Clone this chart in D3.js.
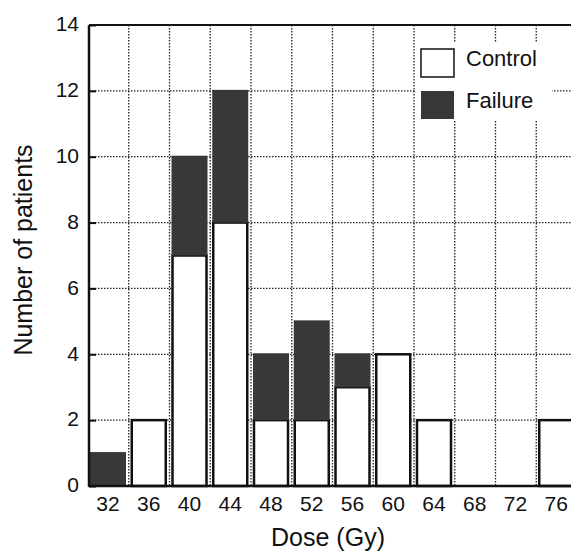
<!DOCTYPE html>
<html lang="en">
<head>
    <meta charset="UTF-8">
    <title>Dose vs patients</title>
    <script src="https://cdn.jsdelivr.net/npm/d3@7"></script>
    <style>
        body { margin: 0; background: #fff; }
        text { font-family: "Liberation Sans", Arial, sans-serif; fill: #111; }
    </style>
</head>
<body>
    <div id="svg"></div>
    <script>
        // data
        const doses = [32, 36, 40, 44, 48, 52, 56, 60, 64, 68, 72, 76]
        const control = [0, 2, 7, 8, 2, 2, 3, 4, 2, 0, 0, 2]
        const failure = [1, 0, 3, 4, 2, 3, 1, 0, 0, 0, 0, 0]
        const yTicks = [0, 2, 4, 6, 8, 10, 12, 14]

        const width = 571, height = 551
        const plot = { left: 89, right: 578, top: 25, bottom: 486 }

        const svg = d3.select("#svg").append("svg").attr("width", width).attr("height", height)

        const x = d3.scaleBand().domain(doses).range([plot.left, plot.right])
        const y = d3.scaleLinear().domain([0, 14]).range([plot.bottom, plot.top])

        // grid (dotted)
        const grid = svg.append("g").attr("stroke", "#222").attr("stroke-width", 1.3)
            .attr("stroke-dasharray", "1.5,1.5")
        grid.selectAll(".v").data(doses.slice(1)).enter().append("line")
            .attr("x1", d => x(d) - 1).attr("x2", d => x(d) - 1)
            .attr("y1", plot.top).attr("y2", plot.bottom)
        grid.selectAll(".h").data(yTicks.slice(1, -1)).enter().append("line")
            .attr("x1", plot.left).attr("x2", width)
            .attr("y1", d => y(d)).attr("y2", d => y(d))

        // legend background hides the grid
        svg.append("rect").attr("x", 416).attr("y", 43).attr("width", 136).attr("height", 77).attr("fill", "#fff")

        // bars
        const bw = 34
        const bars = svg.append("g")
        bars.selectAll(".c").data(doses).enter().filter((d, i) => control[i] > 0).append("rect")
            .attr("x", d => x(d) + 2).attr("width", bw)
            .attr("y", (d) => y(control[doses.indexOf(d)]))
            .attr("height", d => plot.bottom - y(control[doses.indexOf(d)]))
            .attr("fill", "#fff").attr("stroke", "#111").attr("stroke-width", 2.5)
        bars.selectAll(".f").data(doses).enter().filter((d, i) => failure[i] > 0).append("rect")
            .attr("x", d => x(d) + 1).attr("width", bw + 2)
            .attr("y", d => { const i = doses.indexOf(d); return y(control[i] + failure[i]) - 1 })
            .attr("height", d => { const i = doses.indexOf(d); return y(control[i]) - y(control[i] + failure[i]) + 1 })
            .attr("fill", "#383838")

        // frame: left, bottom, top
        svg.append("line").attr("x1", plot.left).attr("x2", plot.left).attr("y1", plot.top).attr("y2", plot.bottom + 1)
            .attr("stroke", "#111").attr("stroke-width", 2.5)
        svg.append("line").attr("x1", plot.left).attr("x2", width).attr("y1", plot.bottom).attr("y2", plot.bottom)
            .attr("stroke", "#111").attr("stroke-width", 2.5)
        svg.append("line").attr("x1", plot.left).attr("x2", width).attr("y1", plot.top).attr("y2", plot.top)
            .attr("stroke", "#111").attr("stroke-width", 2)

        // y axis
        const yAxis = svg.append("g").attr("transform", `translate(${plot.left},0)`)
            .call(d3.axisRight(y).tickValues(yTicks).tickSize(7).tickFormat(""))
        yAxis.select(".domain").remove()
        yAxis.selectAll("line").attr("stroke", "#111").attr("stroke-width", 2)
        svg.selectAll(".ylab").data(yTicks).enter().append("text")
            .attr("x", 79).attr("y", d => y(d)).attr("dy", "0.3em")
            .attr("text-anchor", "end").attr("font-size", "21px").text(d => d)

        // x labels
        svg.selectAll(".xlab").data(doses).enter().append("text")
            .attr("x", d => x(d) + 2 + bw / 2).attr("y", 511)
            .attr("text-anchor", "middle").attr("font-size", "21px").text(d => d)

        svg.append("text").attr("x", 328).attr("y", 546).attr("text-anchor", "middle")
            .attr("font-size", "25px").text("Dose (Gy)")
        svg.append("text").attr("transform", "translate(32,250) rotate(-90)").attr("text-anchor", "middle")
            .attr("font-size", "25px").text("Number of patients")

        // legend
        const legend = [{ name: "Control", fill: "#fff" }, { name: "Failure", fill: "#383838" }]
        const lg = svg.selectAll(".lg").data(legend).enter().append("g")
            .attr("transform", (d, i) => `translate(421,${49 + i * 42})`)
        lg.append("rect").attr("width", 33).attr("height", 28).attr("fill", d => d.fill)
            .attr("stroke", (d, i) => i === 0 ? "#111" : "none").attr("stroke-width", 1.5)
        lg.append("text").attr("x", 45).attr("y", 17)
            .attr("font-size", "22px").text(d => d.name)
    </script>
</body>
</html>
